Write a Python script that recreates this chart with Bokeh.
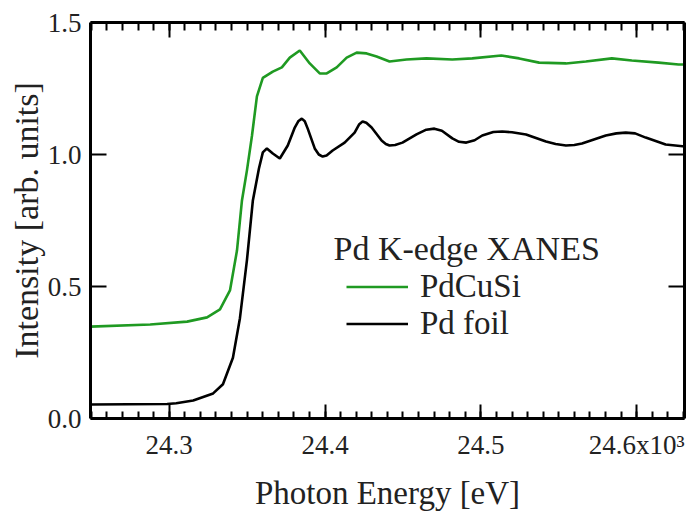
from bokeh.plotting import figure
from bokeh.models import (LinearAxis, FixedTicker, SingleIntervalTicker, Range1d,
                          Legend, LegendItem, Label, CustomJSTickFormatter,
                          CustomLabelingPolicy)
from bokeh.embed import file_html
from bokeh.resources import INLINE

# ---- data (photon energy in keV, intensity in arb. units) ----
pdcusi_x = [24.2495, 24.2878, 24.3115, 24.3243, 24.3326, 24.3390, 24.3435, 24.3467,
            24.3499, 24.3531, 24.3563, 24.3601, 24.3665, 24.3723, 24.3774, 24.3838,
            24.3902, 24.3966, 24.4011, 24.4075, 24.4139, 24.4203, 24.4267, 24.4331,
            24.4414, 24.4523, 24.4651, 24.4817, 24.4945, 24.5131, 24.5246, 24.5374,
            24.5546, 24.5674, 24.5841, 24.5969, 24.6141, 24.6269, 24.6314]
pdcusi_y = [0.348, 0.356, 0.367, 0.383, 0.413, 0.485, 0.636, 0.826,
            0.94, 1.07, 1.22, 1.29, 1.314, 1.33, 1.367, 1.394,
            1.345, 1.307, 1.307, 1.33, 1.367, 1.386, 1.383, 1.371,
            1.352, 1.36, 1.364, 1.36, 1.364, 1.375, 1.364, 1.348,
            1.345, 1.352, 1.364, 1.356, 1.348, 1.341, 1.341]

foil_x = [24.2495, 24.2987, 24.3045, 24.3154, 24.3282, 24.3345, 24.3409, 24.3454,
          24.3499, 24.3537, 24.3576, 24.3601, 24.3627, 24.3665, 24.3710, 24.3761,
          24.3806, 24.3830, 24.3851, 24.3870, 24.3889, 24.3934, 24.3960, 24.3985,
          24.4010, 24.4049, 24.4126, 24.4190, 24.4220, 24.4241, 24.4265, 24.4299,
          24.4363, 24.4390, 24.4414, 24.4450, 24.4497, 24.4587, 24.4650, 24.4702,
          24.4750, 24.4817, 24.4860, 24.4907, 24.4960, 24.5009, 24.5080, 24.5137,
          24.5200, 24.5290, 24.5418, 24.5480, 24.5546, 24.5600, 24.5649, 24.5802,
          24.5870, 24.5930, 24.5990, 24.6058, 24.6186, 24.6314]
foil_y = [0.053, 0.055, 0.058, 0.068, 0.095, 0.13, 0.23, 0.38,
          0.60, 0.826, 0.947, 1.008, 1.023, 1.004, 0.985, 1.034,
          1.102, 1.127, 1.136, 1.126, 1.098, 1.023, 1.000, 0.992,
          0.996, 1.015, 1.045, 1.083, 1.115, 1.125, 1.120, 1.102,
          1.053, 1.040, 1.034, 1.036, 1.045, 1.076, 1.094, 1.098,
          1.090, 1.061, 1.048, 1.045, 1.054, 1.072, 1.085, 1.087,
          1.084, 1.076, 1.049, 1.040, 1.034, 1.036, 1.042, 1.072,
          1.080, 1.083, 1.080, 1.064, 1.038, 1.030]

x_ticks = [24.3, 24.4, 24.5, 24.6]
x_tick_labels = ["24.3", "24.4", "24.5", "24.6x10\u00b3"]
y_ticks = [0.0, 0.5, 1.0, 1.5]
y_tick_labels = ["0.0", "0.5", "1.0", "1.5"]

legend_title = "Pd K-edge XANES"
series_names = ["PdCuSi", "Pd foil"]
series_colors = ["#1f9a22", "#000000"]

FONT = "Liberation Serif"

p = figure(width=688, height=514, output_backend="svg", toolbar_location=None,
           x_range=Range1d(24.2495, 24.6307), y_range=Range1d(0.0, 1.5),
           min_border_left=90, min_border_right=2, min_border_top=22,
           min_border_bottom=96, x_axis_location=None, y_axis_location=None)
p.outline_line_color = None
p.xgrid.visible = False
p.ygrid.visible = False
p.background_fill_color = "white"
p.border_fill_color = "white"

def style_axis(ax, major_in, minor_in):
    ax.axis_line_width = 3
    ax.axis_line_color = "black"
    ax.major_tick_line_width = 2
    ax.minor_tick_line_width = 2
    ax.major_tick_in = major_in
    ax.major_tick_out = 0
    ax.minor_tick_in = minor_in
    ax.minor_tick_out = 0
    ax.major_label_text_font = FONT
    ax.major_label_text_font_size = "27px"
    ax.major_label_text_color = "#222222"
    ax.axis_label_text_font = FONT
    ax.axis_label_text_font_size = "33px"
    ax.axis_label_text_font_style = "normal"
    ax.axis_label_text_color = "#222222"

FMT_CODE = """
    for (let i = 0; i < tvals.length; i++) {
        if (Math.abs(tick - tvals[i]) < 1e-6) return tlabels[i];
    }
    return "";
"""
HIDE_CODE = """
    const n = indices.size;
    for (let i = 0; i < n; i++) { indices.unset(i); }
    return indices;
"""

xt = SingleIntervalTicker(interval=0.1, num_minor_ticks=10)
xfmt = CustomJSTickFormatter(args=dict(tvals=x_ticks, tlabels=x_tick_labels), code=FMT_CODE)
yt = FixedTicker(ticks=y_ticks, minor_ticks=[])
yfmt = CustomJSTickFormatter(args=dict(tvals=y_ticks, tlabels=y_tick_labels), code=FMT_CODE)

bottom = LinearAxis(ticker=xt, formatter=xfmt, axis_label="Photon Energy [eV]")
style_axis(bottom, 14, 7)
bottom.major_label_standoff = 11
bottom.axis_label_standoff = 12
p.add_layout(bottom, "below")

top = LinearAxis(ticker=SingleIntervalTicker(interval=0.1, num_minor_ticks=10),
                 major_label_policy=CustomLabelingPolicy(code=HIDE_CODE))
style_axis(top, 15, 8)
top.major_label_text_font_size = "1px"
top.major_label_standoff = 0
p.add_layout(top, "above")

left = LinearAxis(ticker=yt, formatter=yfmt, axis_label="Intensity [arb. units]")
style_axis(left, 16, 0)
left.major_label_standoff = 9
left.axis_label_standoff = 0
left.axis_label_text_font_size = "34px"
p.add_layout(left, "left")

right = LinearAxis(ticker=FixedTicker(ticks=y_ticks, minor_ticks=[]),
                   major_label_policy=CustomLabelingPolicy(code=HIDE_CODE))
style_axis(right, 16, 0)
right.major_label_text_font_size = "1px"
right.major_label_standoff = 0
p.add_layout(right, "right")

r1 = p.line(pdcusi_x, pdcusi_y, line_color=series_colors[0], line_width=2.6)
r2 = p.line(foil_x, foil_y, line_color=series_colors[1], line_width=2.6)

legend = Legend(items=[LegendItem(label=series_names[0], renderers=[r1]),
                       LegendItem(label=series_names[1], renderers=[r2])],
                location=(256, 76), orientation="vertical")
legend.border_line_color = None
legend.background_fill_alpha = 0
legend.padding = 0
legend.margin = 0
legend.spacing = 0
legend.glyph_width = 62
legend.glyph_height = 37
legend.label_height = 37
legend.label_standoff = 12
legend.label_text_font = FONT
legend.label_text_font_size = "33px"
legend.label_text_color = "#222222"
p.add_layout(legend, "center")

title = Label(x=243, y=170, x_units="screen", y_units="screen", text=legend_title,
              text_font=FONT, text_font_size="34px", text_color="#222222",
              text_baseline="middle", text_align="left")
p.add_layout(title)

open("out.html", "w").write(file_html(p, INLINE))
